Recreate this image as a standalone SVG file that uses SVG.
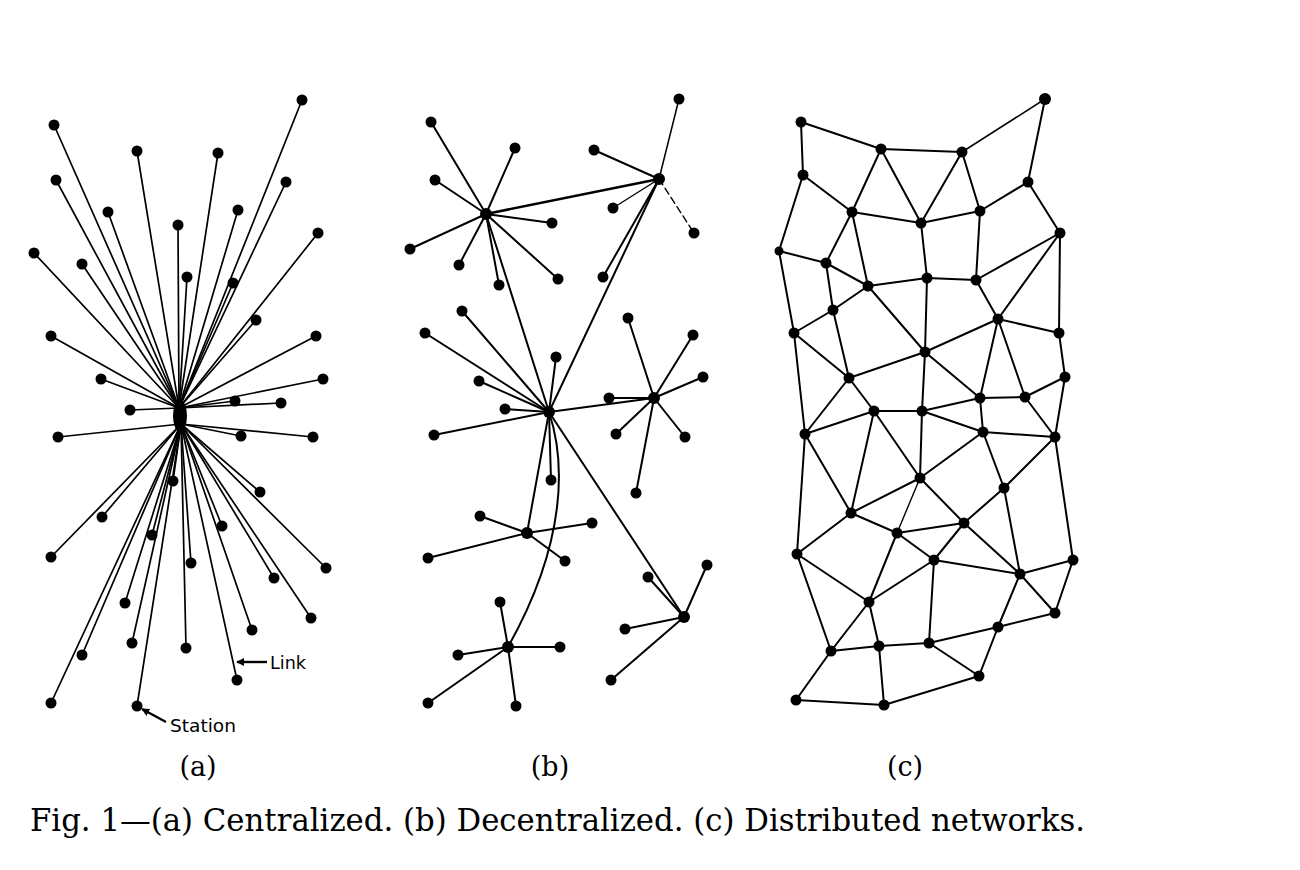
<svg xmlns="http://www.w3.org/2000/svg" width="1300" height="870" viewBox="0 0 1300 870">
<style>
.l{stroke:#000;stroke-width:2;fill:none;stroke-linecap:round}
.la{stroke:#000;stroke-width:1.7;fill:none;stroke-linecap:round}
.dash{stroke:#000;stroke-width:1.4;fill:none;stroke-dasharray:7 4}
circle{fill:#000}
.cap{font-family:"DejaVu Serif","Liberation Serif",serif;fill:#000}
.lab{font-family:"DejaVu Sans","Liberation Sans",sans-serif;fill:#000;font-size:17px}
.arr{stroke:#000;stroke-width:2.4;fill:none}
</style>
<defs>
<marker id="ah" viewBox="0 0 10 10" refX="9" refY="5" markerWidth="8" markerHeight="8" orient="auto" markerUnits="userSpaceOnUse">
<path d="M0,0 L10,5 L0,10 z" fill="#000"/>
</marker>
</defs>
<rect width="1300" height="870" fill="#fff"/>
<g id="connectors">
<g id="links-a" class="la">
<line x1="179" y1="408" x2="302" y2="100"/>
<line x1="179" y1="408" x2="54" y2="125"/>
<line x1="179" y1="408" x2="137" y2="151"/>
<line x1="179" y1="408" x2="218" y2="153"/>
<line x1="179" y1="408" x2="56" y2="180"/>
<line x1="179" y1="408" x2="286" y2="182"/>
<line x1="179" y1="408" x2="108" y2="212"/>
<line x1="179" y1="408" x2="238" y2="210"/>
<line x1="179" y1="408" x2="178" y2="225"/>
<line x1="179" y1="408" x2="318" y2="233"/>
<line x1="179" y1="408" x2="34" y2="253"/>
<line x1="179" y1="408" x2="82" y2="264"/>
<line x1="179" y1="408" x2="187" y2="277"/>
<line x1="179" y1="408" x2="233" y2="283"/>
<line x1="179" y1="408" x2="256" y2="320"/>
<line x1="179" y1="408" x2="51" y2="336"/>
<line x1="179" y1="408" x2="316" y2="336"/>
<line x1="179" y1="408" x2="101" y2="379"/>
<line x1="179" y1="408" x2="323" y2="379"/>
<line x1="179" y1="408" x2="235" y2="401"/>
<line x1="179" y1="408" x2="281" y2="403"/>
<line x1="179" y1="408" x2="130" y2="410"/>
<line x1="181" y1="424" x2="58" y2="437"/>
<line x1="181" y1="424" x2="241" y2="436"/>
<line x1="181" y1="424" x2="313" y2="437"/>
<line x1="181" y1="424" x2="173" y2="481"/>
<line x1="181" y1="424" x2="260" y2="492"/>
<line x1="181" y1="424" x2="102" y2="517"/>
<line x1="181" y1="424" x2="222" y2="526"/>
<line x1="181" y1="424" x2="152" y2="535"/>
<line x1="181" y1="424" x2="51" y2="557"/>
<line x1="181" y1="424" x2="191" y2="563"/>
<line x1="181" y1="424" x2="326" y2="568"/>
<line x1="181" y1="424" x2="274" y2="578"/>
<line x1="181" y1="424" x2="125" y2="603"/>
<line x1="181" y1="424" x2="311" y2="618"/>
<line x1="181" y1="424" x2="252" y2="630"/>
<line x1="181" y1="424" x2="132" y2="643"/>
<line x1="181" y1="424" x2="186" y2="648"/>
<line x1="181" y1="424" x2="82" y2="655"/>
<line x1="181" y1="424" x2="237" y2="680"/>
<line x1="181" y1="424" x2="51" y2="703"/>
<line x1="181" y1="424" x2="137" y2="706"/>
</g>
<g id="links-b" class="l">
<line x1="486" y1="214" x2="431" y2="122"/>
<line x1="486" y1="214" x2="515" y2="148"/>
<line x1="486" y1="214" x2="435" y2="180"/>
<line x1="486" y1="214" x2="552" y2="223"/>
<line x1="486" y1="214" x2="410" y2="249"/>
<line x1="486" y1="214" x2="459" y2="265"/>
<line x1="486" y1="214" x2="499" y2="285"/>
<line x1="486" y1="214" x2="558" y2="279"/>
<line x1="486" y1="214" x2="659" y2="179" stroke-width="2.5"/>
<line x1="486" y1="214" x2="549" y2="412"/>
<line x1="659" y1="179" x2="679" y2="99" stroke-width="1.5"/>
<line x1="659" y1="179" x2="594" y2="150"/>
<line x1="659" y1="179" x2="613" y2="208" stroke-width="1.4"/>
<line x1="659" y1="179" x2="694" y2="233" class="dash"/>
<line x1="659" y1="179" x2="603" y2="277"/>
<line x1="659" y1="179" x2="549" y2="412"/>
<line x1="549" y1="412" x2="462" y2="311"/>
<line x1="549" y1="412" x2="425" y2="333"/>
<line x1="549" y1="412" x2="556" y2="357"/>
<line x1="549" y1="412" x2="479" y2="381"/>
<line x1="549" y1="412" x2="505" y2="409"/>
<line x1="549" y1="412" x2="434" y2="435"/>
<line x1="549" y1="412" x2="551" y2="480"/>
<line x1="549" y1="412" x2="654" y2="398"/>
<line x1="549" y1="412" x2="527" y2="533"/>
<line x1="549" y1="412" x2="684" y2="617"/>
<path d="M549,412 C565,460 568,540 508,647"/>
<line x1="654" y1="398" x2="609" y2="398"/>
<line x1="654" y1="398" x2="628" y2="318"/>
<line x1="654" y1="398" x2="693" y2="335"/>
<line x1="654" y1="398" x2="703" y2="377"/>
<line x1="654" y1="398" x2="616" y2="434"/>
<line x1="654" y1="398" x2="685" y2="437"/>
<line x1="654" y1="398" x2="636" y2="493"/>
<line x1="527" y1="533" x2="480" y2="516"/>
<line x1="527" y1="533" x2="592" y2="523"/>
<line x1="527" y1="533" x2="428" y2="558"/>
<line x1="527" y1="533" x2="565" y2="561"/>
<line x1="508" y1="647" x2="500" y2="602"/>
<line x1="508" y1="647" x2="458" y2="655"/>
<line x1="508" y1="647" x2="560" y2="647"/>
<line x1="508" y1="647" x2="428" y2="703"/>
<line x1="508" y1="647" x2="516" y2="706"/>
<line x1="684" y1="617" x2="648" y2="577"/>
<line x1="684" y1="617" x2="707" y2="565"/>
<line x1="684" y1="617" x2="625" y2="629"/>
<line x1="684" y1="617" x2="611" y2="680"/>
</g>
<g id="links-c" class="l">
<line x1="801" y1="122" x2="881" y2="149"/>
<line x1="801" y1="122" x2="803" y2="175"/>
<line x1="881" y1="149" x2="962" y2="152"/>
<line x1="962" y1="152" x2="1045" y2="99" stroke-width="1.5"/>
<line x1="1045" y1="99" x2="1028" y2="182"/>
<line x1="881" y1="149" x2="852" y2="212"/>
<line x1="881" y1="149" x2="921" y2="223"/>
<line x1="962" y1="152" x2="921" y2="223"/>
<line x1="962" y1="152" x2="980" y2="211"/>
<line x1="803" y1="175" x2="852" y2="212"/>
<line x1="803" y1="175" x2="779" y2="251"/>
<line x1="1028" y1="182" x2="980" y2="211"/>
<line x1="1028" y1="182" x2="1060" y2="233"/>
<line x1="852" y1="212" x2="921" y2="223"/>
<line x1="921" y1="223" x2="980" y2="211"/>
<line x1="852" y1="212" x2="826" y2="263"/>
<line x1="852" y1="212" x2="868" y2="286"/>
<line x1="921" y1="223" x2="927" y2="278"/>
<line x1="980" y1="211" x2="976" y2="280"/>
<line x1="1060" y1="233" x2="976" y2="280"/>
<line x1="1060" y1="233" x2="998" y2="319"/>
<line x1="1060" y1="233" x2="1059" y2="333"/>
<line x1="779" y1="251" x2="826" y2="263"/>
<line x1="779" y1="251" x2="794" y2="333"/>
<line x1="826" y1="263" x2="868" y2="286"/>
<line x1="826" y1="263" x2="833" y2="310"/>
<line x1="868" y1="286" x2="927" y2="278"/>
<line x1="927" y1="278" x2="976" y2="280"/>
<line x1="927" y1="278" x2="925" y2="352"/>
<line x1="868" y1="286" x2="833" y2="310"/>
<line x1="868" y1="286" x2="925" y2="352"/>
<line x1="976" y1="280" x2="998" y2="319"/>
<line x1="833" y1="310" x2="794" y2="333"/>
<line x1="833" y1="310" x2="849" y2="378"/>
<line x1="998" y1="319" x2="1059" y2="333"/>
<line x1="998" y1="319" x2="925" y2="352"/>
<line x1="998" y1="319" x2="980" y2="398"/>
<line x1="998" y1="319" x2="1025" y2="397"/>
<line x1="794" y1="333" x2="849" y2="378"/>
<line x1="794" y1="333" x2="805" y2="434"/>
<line x1="1059" y1="333" x2="1065" y2="377"/>
<line x1="925" y1="352" x2="849" y2="378"/>
<line x1="925" y1="352" x2="980" y2="398"/>
<line x1="925" y1="352" x2="922" y2="411"/>
<line x1="849" y1="378" x2="874" y2="411"/>
<line x1="849" y1="378" x2="805" y2="434"/>
<line x1="1065" y1="377" x2="1025" y2="397"/>
<line x1="1065" y1="377" x2="1055" y2="437"/>
<line x1="980" y1="398" x2="1025" y2="397"/>
<line x1="1025" y1="397" x2="1055" y2="437"/>
<line x1="980" y1="398" x2="922" y2="411"/>
<line x1="980" y1="398" x2="983" y2="432"/>
<line x1="922" y1="411" x2="983" y2="432"/>
<line x1="874" y1="411" x2="922" y2="411"/>
<line x1="874" y1="411" x2="805" y2="434"/>
<line x1="874" y1="411" x2="920" y2="478"/>
<line x1="922" y1="411" x2="920" y2="478"/>
<line x1="874" y1="411" x2="851" y2="513"/>
<line x1="805" y1="434" x2="851" y2="513"/>
<line x1="805" y1="434" x2="797" y2="554"/>
<line x1="983" y1="432" x2="1055" y2="437"/>
<line x1="983" y1="432" x2="920" y2="478"/>
<line x1="983" y1="432" x2="1004" y2="488"/>
<line x1="1055" y1="437" x2="1004" y2="488"/>
<line x1="1055" y1="437" x2="1073" y2="560"/>
<line x1="920" y1="478" x2="851" y2="513"/>
<line x1="920" y1="478" x2="964" y2="523"/>
<line x1="920" y1="478" x2="897" y2="533" stroke-width="1.4"/>
<line x1="1004" y1="488" x2="964" y2="523"/>
<line x1="1004" y1="488" x2="1020" y2="574"/>
<line x1="851" y1="513" x2="897" y2="533"/>
<line x1="851" y1="513" x2="797" y2="554"/>
<line x1="964" y1="523" x2="897" y2="533"/>
<line x1="964" y1="523" x2="934" y2="560"/>
<line x1="964" y1="523" x2="1020" y2="574"/>
<line x1="897" y1="533" x2="934" y2="560"/>
<line x1="897" y1="533" x2="869" y2="602"/>
<line x1="797" y1="554" x2="869" y2="602"/>
<line x1="797" y1="554" x2="831" y2="651"/>
<line x1="934" y1="560" x2="1020" y2="574"/>
<line x1="934" y1="560" x2="869" y2="602"/>
<line x1="934" y1="560" x2="929" y2="643"/>
<line x1="1073" y1="560" x2="1020" y2="574"/>
<line x1="1073" y1="560" x2="1055" y2="613"/>
<line x1="1020" y1="574" x2="1055" y2="613"/>
<line x1="1020" y1="574" x2="998" y2="627"/>
<line x1="869" y1="602" x2="831" y2="651"/>
<line x1="869" y1="602" x2="879" y2="646"/>
<line x1="1055" y1="613" x2="998" y2="627"/>
<line x1="998" y1="627" x2="929" y2="643"/>
<line x1="998" y1="627" x2="979" y2="676"/>
<line x1="831" y1="651" x2="879" y2="646"/>
<line x1="831" y1="651" x2="796" y2="700"/>
<line x1="879" y1="646" x2="929" y2="643"/>
<line x1="879" y1="646" x2="884" y2="705"/>
<line x1="929" y1="643" x2="979" y2="676"/>
<line x1="979" y1="676" x2="884" y2="705"/>
<line x1="796" y1="700" x2="884" y2="705"/>
</g>
</g>
<g id="hub-a"><ellipse cx="180" cy="416" rx="7" ry="16" fill="#000"/></g>
<g id="stations-a">
<g id="a1"><circle cx="302" cy="100" r="5.5"/></g>
<g id="a2"><circle cx="54" cy="125" r="5.5"/></g>
<g id="a3"><circle cx="137" cy="151" r="5.5"/></g>
<g id="a4"><circle cx="218" cy="153" r="5.5"/></g>
<g id="a5"><circle cx="56" cy="180" r="5.5"/></g>
<g id="a6"><circle cx="286" cy="182" r="5.5"/></g>
<g id="a7"><circle cx="108" cy="212" r="5.5"/></g>
<g id="a8"><circle cx="238" cy="210" r="5.5"/></g>
<g id="a9"><circle cx="178" cy="225" r="5.5"/></g>
<g id="a10"><circle cx="318" cy="233" r="5.5"/></g>
<g id="a11"><circle cx="34" cy="253" r="5.5"/></g>
<g id="a12"><circle cx="82" cy="264" r="5.5"/></g>
<g id="a13"><circle cx="187" cy="277" r="5.5"/></g>
<g id="a14"><circle cx="233" cy="283" r="5.5"/></g>
<g id="a15"><circle cx="256" cy="320" r="5.5"/></g>
<g id="a16"><circle cx="51" cy="336" r="5.5"/></g>
<g id="a17"><circle cx="316" cy="336" r="5.5"/></g>
<g id="a18"><circle cx="101" cy="379" r="5.5"/></g>
<g id="a19"><circle cx="323" cy="379" r="5.5"/></g>
<g id="a20"><circle cx="235" cy="401" r="5.5"/></g>
<g id="a21"><circle cx="281" cy="403" r="5.5"/></g>
<g id="a22"><circle cx="130" cy="410" r="5.5"/></g>
<g id="a23"><circle cx="58" cy="437" r="5.5"/></g>
<g id="a24"><circle cx="241" cy="436" r="5.5"/></g>
<g id="a25"><circle cx="313" cy="437" r="5.5"/></g>
<g id="a26"><circle cx="173" cy="481" r="5.5"/></g>
<g id="a27"><circle cx="260" cy="492" r="5.5"/></g>
<g id="a28"><circle cx="102" cy="517" r="5.5"/></g>
<g id="a29"><circle cx="222" cy="526" r="5.5"/></g>
<g id="a30"><circle cx="152" cy="535" r="5.5"/></g>
<g id="a31"><circle cx="51" cy="557" r="5.5"/></g>
<g id="a32"><circle cx="191" cy="563" r="5.5"/></g>
<g id="a33"><circle cx="326" cy="568" r="5.5"/></g>
<g id="a34"><circle cx="274" cy="578" r="5.5"/></g>
<g id="a35"><circle cx="125" cy="603" r="5.5"/></g>
<g id="a36"><circle cx="311" cy="618" r="5.5"/></g>
<g id="a37"><circle cx="252" cy="630" r="5.5"/></g>
<g id="a38"><circle cx="132" cy="643" r="5.5"/></g>
<g id="a39"><circle cx="186" cy="648" r="5.5"/></g>
<g id="a40"><circle cx="82" cy="655" r="5.5"/></g>
<g id="a41"><circle cx="237" cy="680" r="5.5"/></g>
<g id="a42"><circle cx="51" cy="703" r="5.5"/></g>
<g id="a43"><circle cx="137" cy="706" r="5.5"/></g>
</g>
<g id="stations-b">
<g id="bh1"><circle cx="486" cy="214" r="6"/></g>
<g id="bh2"><circle cx="659" cy="179" r="6"/></g>
<g id="bhc"><circle cx="549" cy="412" r="6"/></g>
<g id="bh3"><circle cx="654" cy="398" r="6"/></g>
<g id="bh4"><circle cx="527" cy="533" r="6"/></g>
<g id="bh5"><circle cx="508" cy="647" r="6"/></g>
<g id="bh6"><circle cx="684" cy="617" r="6"/></g>
<g id="b1"><circle cx="431" cy="122" r="5.5"/></g>
<g id="b2"><circle cx="515" cy="148" r="5.5"/></g>
<g id="b3"><circle cx="435" cy="180" r="5.5"/></g>
<g id="b4"><circle cx="552" cy="223" r="5.5"/></g>
<g id="b5"><circle cx="410" cy="249" r="5.5"/></g>
<g id="b6"><circle cx="459" cy="265" r="5.5"/></g>
<g id="b7"><circle cx="499" cy="285" r="5.5"/></g>
<g id="b8"><circle cx="558" cy="279" r="5.5"/></g>
<g id="b9"><circle cx="679" cy="99" r="5.5"/></g>
<g id="b10"><circle cx="594" cy="150" r="5.5"/></g>
<g id="b11"><circle cx="613" cy="208" r="5.5"/></g>
<g id="b12"><circle cx="694" cy="233" r="5.5"/></g>
<g id="b13"><circle cx="603" cy="277" r="5.5"/></g>
<g id="b14"><circle cx="462" cy="311" r="5.5"/></g>
<g id="b15"><circle cx="425" cy="333" r="5.5"/></g>
<g id="b16"><circle cx="556" cy="357" r="5.5"/></g>
<g id="b17"><circle cx="479" cy="381" r="5.5"/></g>
<g id="b18"><circle cx="505" cy="409" r="5.5"/></g>
<g id="b19"><circle cx="434" cy="435" r="5.5"/></g>
<g id="b20"><circle cx="551" cy="480" r="5.5"/></g>
<g id="b21"><circle cx="609" cy="398" r="5.5"/></g>
<g id="b22"><circle cx="628" cy="318" r="5.5"/></g>
<g id="b23"><circle cx="693" cy="335" r="5.5"/></g>
<g id="b24"><circle cx="703" cy="377" r="5.5"/></g>
<g id="b25"><circle cx="616" cy="434" r="5.5"/></g>
<g id="b26"><circle cx="685" cy="437" r="5.5"/></g>
<g id="b27"><circle cx="636" cy="493" r="5.5"/></g>
<g id="b28"><circle cx="480" cy="516" r="5.5"/></g>
<g id="b29"><circle cx="592" cy="523" r="5.5"/></g>
<g id="b30"><circle cx="428" cy="558" r="5.5"/></g>
<g id="b31"><circle cx="565" cy="561" r="5.5"/></g>
<g id="b32"><circle cx="500" cy="602" r="5.5"/></g>
<g id="b33"><circle cx="458" cy="655" r="5.5"/></g>
<g id="b34"><circle cx="560" cy="647" r="5.5"/></g>
<g id="b35"><circle cx="428" cy="703" r="5.5"/></g>
<g id="b36"><circle cx="516" cy="706" r="5.5"/></g>
<g id="b37"><circle cx="648" cy="577" r="5.5"/></g>
<g id="b38"><circle cx="707" cy="565" r="5.5"/></g>
<g id="b39"><circle cx="625" cy="629" r="5.5"/></g>
<g id="b40"><circle cx="611" cy="680" r="5.5"/></g>
</g>
<g id="stations-c">
<g id="c1"><circle cx="801" cy="122" r="5.5"/></g>
<g id="c2"><circle cx="1045" cy="99" r="6"/></g>
<g id="c3"><circle cx="881" cy="149" r="5.5"/></g>
<g id="c4"><circle cx="962" cy="152" r="5.5"/></g>
<g id="c5"><circle cx="803" cy="175" r="5.5"/></g>
<g id="c6"><circle cx="1028" cy="182" r="5.5"/></g>
<g id="c7"><circle cx="852" cy="212" r="5.5"/></g>
<g id="c8"><circle cx="980" cy="211" r="5.5"/></g>
<g id="c9"><circle cx="921" cy="223" r="5.5"/></g>
<g id="c10"><circle cx="1060" cy="233" r="5.5"/></g>
<g id="c11"><circle cx="779" cy="251" r="4.5"/></g>
<g id="c12"><circle cx="826" cy="263" r="5.5"/></g>
<g id="c13"><circle cx="927" cy="278" r="5.5"/></g>
<g id="c14"><circle cx="976" cy="280" r="5.5"/></g>
<g id="c15"><circle cx="868" cy="286" r="5.5"/></g>
<g id="c16"><circle cx="833" cy="310" r="5.5"/></g>
<g id="c17"><circle cx="998" cy="319" r="5.5"/></g>
<g id="c18"><circle cx="794" cy="333" r="5.5"/></g>
<g id="c19"><circle cx="1059" cy="333" r="5.5"/></g>
<g id="c20"><circle cx="925" cy="352" r="5.5"/></g>
<g id="c21"><circle cx="849" cy="378" r="5.5"/></g>
<g id="c22"><circle cx="1065" cy="377" r="5.5"/></g>
<g id="c23"><circle cx="980" cy="398" r="5.5"/></g>
<g id="c24"><circle cx="1025" cy="397" r="5.5"/></g>
<g id="c25"><circle cx="874" cy="411" r="5.5"/></g>
<g id="c26"><circle cx="922" cy="411" r="5.5"/></g>
<g id="d1"><circle cx="805" cy="434" r="5.5"/></g>
<g id="d2"><circle cx="983" cy="432" r="5.5"/></g>
<g id="d3"><circle cx="1055" cy="437" r="5.5"/></g>
<g id="d4"><circle cx="920" cy="478" r="5.5"/></g>
<g id="d5"><circle cx="1004" cy="488" r="5.5"/></g>
<g id="d6"><circle cx="851" cy="513" r="5.5"/></g>
<g id="d7"><circle cx="964" cy="523" r="5.5"/></g>
<g id="d8"><circle cx="897" cy="533" r="5.5"/></g>
<g id="d9"><circle cx="797" cy="554" r="5.5"/></g>
<g id="d10"><circle cx="934" cy="560" r="5.5"/></g>
<g id="d11"><circle cx="1073" cy="560" r="5.5"/></g>
<g id="d12"><circle cx="1020" cy="574" r="5.5"/></g>
<g id="d13"><circle cx="869" cy="602" r="5.5"/></g>
<g id="d14"><circle cx="1055" cy="613" r="5.5"/></g>
<g id="d15"><circle cx="998" cy="627" r="5.5"/></g>
<g id="d16"><circle cx="831" cy="651" r="5.5"/></g>
<g id="d17"><circle cx="879" cy="646" r="5.5"/></g>
<g id="d18"><circle cx="929" cy="643" r="5.5"/></g>
<g id="d19"><circle cx="979" cy="676" r="5.5"/></g>
<g id="d20"><circle cx="796" cy="700" r="5.5"/></g>
<g id="d21"><circle cx="884" cy="705" r="5.5"/></g>
</g>
<g id="labels">
<line class="arr" x1="267" y1="662" x2="237" y2="662" marker-end="url(#ah)"/>
<text class="lab" x="270" y="669" textLength="36" lengthAdjust="spacingAndGlyphs">Link</text>
<line class="arr" x1="166" y1="722" x2="142" y2="709" marker-end="url(#ah)"/>
<text class="lab" x="170" y="732" textLength="66" lengthAdjust="spacingAndGlyphs">Station</text>
<text class="cap" x="198" y="776" font-size="27" text-anchor="middle">(a)</text>
<text class="cap" x="550" y="776" font-size="27" text-anchor="middle">(b)</text>
<text class="cap" x="905" y="776" font-size="27" text-anchor="middle">(c)</text>
<text class="cap" x="30" y="831" font-size="32" textLength="1055" lengthAdjust="spacingAndGlyphs">Fig. 1—(a) Centralized. (b) Decentralized. (c) Distributed networks.</text>
</g>
</svg>
